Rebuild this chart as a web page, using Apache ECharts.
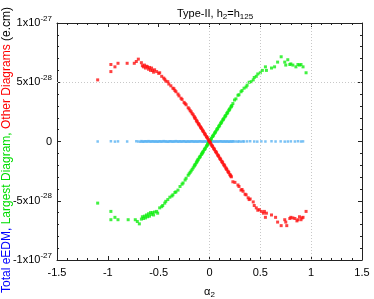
<!DOCTYPE html>
<html><head><meta charset="utf-8">
<script src="https://cdn.jsdelivr.net/npm/echarts@6/dist/echarts.min.js"></script>
<style>html,body{margin:0;padding:0;background:#fff}#c{width:374px;height:299px}</style>
</head><body><div id="c"></div>
<script>
// y values are in units of 1e-28 e.cm
const xTicks = [-1.5, -1, -0.5, 0, 0.5, 1, 1.5];
const yTickValues = [-10, -5, 0, 5, 10];
const yTickMantissa = ['-1x10', '-5x10', '0', '5x10', '1x10'];
const yTickExponent = ['-27', '-28', '', '-28', '-27'];
const gridX = [0, 0.5, 1];
const gridY = [5];
const yNameParts = ['Total eEDM,', 'Largest Diagram,', 'Other Diagrams', '(e.cm)'];

const otherDiagrams = [
[-1.10,5.2],[-0.97,6.5],[-0.97,5.9],[-0.93,6.3],[-0.90,6.6],[-0.81,6.6],[-0.74,6.6],[-0.72,6.75],[-0.70,6.95],[-0.67,6.65],
[-0.66,6.4],[-0.65,6.3],[-0.64,6.45],[-0.63,6.2],[-0.62,6.35],[-0.61,6.3],[-0.60,6.1],[-0.59,6.25],[-0.58,6.0],[-0.57,6.2],
[-0.56,6.0],[-0.55,5.85],[-0.54,6.05],[-0.52,5.9],[-0.50,5.75],[-0.49,5.8],[-0.47,5.5],[-0.45,5.35],[-0.44,5.25],[-0.43,5.1],
[-0.41,5.05],[-0.40,4.85],[-0.38,4.7],[-0.36,4.5],[-0.35,4.45],[-0.34,4.3],[-0.33,4.2],[-0.31,4.0],[-0.30,3.85],[-0.28,3.65],
[-0.27,3.55],[-0.25,3.3],[-0.24,3.2],[-0.23,3.1],[-0.21,2.85],[-0.20,2.75],[-0.19,2.6],[-0.18,2.5],[-0.17,2.35],[-0.16,2.25],
[-0.15,2.1],[-0.145,2.0],[-0.14,1.95],[-0.13,1.8],[-0.125,1.72],[-0.12,1.65],[-0.11,1.52],[-0.105,1.45],[-0.10,1.38],[-0.09,1.25],
[-0.085,1.18],[-0.08,1.1],[-0.07,0.98],[-0.065,0.9],[-0.06,0.83],[-0.05,0.7],[-0.045,0.62],[-0.04,0.55],[-0.03,0.42],[-0.025,0.35],
[-0.02,0.28],[-0.01,0.14],[-0.005,0.07],[0.0,0.0],
[0.005,-0.07],[0.01,-0.14],[0.02,-0.28],[0.025,-0.35],[0.03,-0.42],[0.04,-0.56],[0.045,-0.62],[0.05,-0.7],[0.06,-0.84],[0.065,-0.9],
[0.07,-0.97],[0.08,-1.12],[0.085,-1.18],[0.09,-1.25],[0.10,-1.4],[0.105,-1.46],[0.11,-1.53],[0.12,-1.67],[0.125,-1.73],[0.13,-1.8],
[0.14,-1.95],[0.145,-2.0],[0.15,-2.08],[0.16,-2.22],[0.165,-2.3],[0.17,-2.36],[0.18,-2.5],[0.185,-2.57],[0.19,-2.63],[0.20,-2.78],
[0.205,-2.85],[0.21,-2.92],[0.215,-2.98],[0.23,-3.4],[0.25,-3.45],[0.28,-3.67],[0.29,-3.8],[0.31,-4.1],[0.32,-4.05],[0.33,-4.2],
[0.35,-4.45],[0.36,-4.5],[0.38,-4.75],[0.39,-4.9],[0.40,-4.85],[0.43,-5.1],[0.44,-5.4],[0.46,-5.6],[0.475,-5.8],[0.49,-5.75],
[0.51,-5.9],[0.53,-6.05],[0.54,-5.9],[0.55,-6.4],[0.56,-6.05],[0.61,-6.2],[0.65,-6.4],[0.67,-6.8],[0.705,-7.1],[0.74,-6.6],
[0.75,-6.8],[0.76,-7.1],[0.79,-6.5],[0.80,-6.4],[0.82,-6.45],[0.84,-6.5],[0.86,-6.7],[0.87,-6.6],[0.885,-6.35],[0.90,-6.6],
[0.91,-6.45],[0.92,-6.4],[0.95,-5.9]
];

const largestDiagram = [
[-1.10,-5.2],[-0.97,-5.9],[-0.97,-6.6],[-0.93,-6.4],[-0.90,-6.6],[-0.80,-6.6],[-0.73,-6.6],[-0.71,-6.75],[-0.69,-6.95],[-0.67,-6.55],
[-0.66,-6.35],[-0.65,-6.5],[-0.64,-6.3],[-0.63,-6.45],[-0.62,-6.2],[-0.61,-6.35],[-0.60,-6.1],[-0.59,-6.3],[-0.58,-6.0],[-0.57,-6.15],
[-0.56,-6.0],[-0.55,-6.2],[-0.54,-5.95],[-0.52,-5.9],[-0.51,-6.05],[-0.49,-5.6],[-0.47,-5.5],[-0.46,-5.4],[-0.44,-5.2],[-0.43,-5.05],
[-0.41,-4.9],[-0.39,-4.7],[-0.37,-4.6],[-0.36,-4.5],[-0.34,-4.3],[-0.33,-4.25],[-0.31,-4.1],[-0.29,-3.8],[-0.27,-3.6],[-0.26,-3.5],
[-0.24,-3.25],[-0.23,-3.1],[-0.21,-2.85],[-0.20,-2.72],[-0.19,-2.6],[-0.18,-2.48],[-0.17,-2.35],[-0.16,-2.22],[-0.15,-2.08],[-0.145,-2.0],
[-0.14,-1.93],[-0.13,-1.8],[-0.125,-1.72],[-0.12,-1.64],[-0.115,-1.56],[-0.11,-1.5],[-0.10,-1.37],[-0.095,-1.3],[-0.09,-1.24],[-0.08,-1.1],
[-0.075,-1.03],[-0.07,-0.96],[-0.066,-0.9],[-0.06,-0.82],[-0.05,-0.68],[-0.045,-0.62],[-0.04,-0.55],[-0.03,-0.41],[-0.025,-0.34],[-0.02,-0.27],
[-0.017,-0.2],[-0.01,-0.13],[-0.005,-0.06],[0.0,0.0],
[0.005,0.07],[0.01,0.14],[0.015,0.21],[0.02,0.28],[0.03,0.42],[0.035,0.48],[0.04,0.55],[0.05,0.69],[0.055,0.76],[0.06,0.83],
[0.07,0.97],[0.075,1.04],[0.08,1.1],[0.09,1.24],[0.095,1.31],[0.10,1.38],[0.11,1.52],[0.115,1.59],[0.12,1.66],[0.13,1.8],
[0.135,1.86],[0.14,1.93],[0.15,2.07],[0.155,2.14],[0.16,2.2],[0.17,2.35],[0.175,2.41],[0.18,2.48],[0.19,2.62],[0.195,2.69],
[0.20,2.76],[0.21,2.9],[0.215,2.96],[0.22,3.04],[0.23,3.2],[0.246,3.5],[0.26,3.6],[0.28,3.9],[0.29,3.95],[0.31,4.2],
[0.32,4.3],[0.34,4.5],[0.36,4.6],[0.37,4.75],[0.39,5.0],[0.41,5.05],[0.43,5.2],[0.44,5.4],[0.46,5.5],[0.475,5.7],
[0.50,5.8],[0.52,6.0],[0.55,6.3],[0.56,6.0],[0.61,6.2],[0.64,6.3],[0.67,6.7],[0.705,7.15],[0.74,6.7],[0.75,6.45],
[0.77,6.9],[0.79,6.5],[0.80,6.55],[0.82,6.45],[0.85,6.3],[0.87,6.5],[0.885,6.45],[0.90,6.5],[0.92,6.3],[0.95,5.8]
];

const totalEDM = [
[-1.10,0.0],[-0.97,0.02],[-0.93,-0.01],[-0.90,0.01],[-0.81,0.0],[-0.72,0.02],[-0.70,0.0],[-0.68,-0.02],[-0.67,0.03],[-0.66,0.0],
[-0.65,-0.02],[-0.64,0.01],[-0.63,0.02],[-0.62,0.0],[-0.61,0.0],[-0.60,0.03],[-0.59,0.01],[-0.58,-0.01],[-0.57,0.0],[-0.56,0.02],
[-0.55,0.0],[-0.54,-0.01],[-0.53,0.01],[-0.52,0.0],[-0.51,-0.02],[-0.50,0.01],[-0.49,0.02],[-0.48,-0.01],[-0.47,0.0],[-0.46,0.01],
[-0.45,0.03],[-0.44,0.0],[-0.43,0.01],[-0.42,-0.01],[-0.41,-0.02],[-0.40,0.0],[-0.39,0.02],[-0.38,0.01],[-0.37,0.0],[-0.36,-0.01],
[-0.35,0.01],[-0.34,0.0],[-0.33,0.03],[-0.32,0.01],[-0.31,-0.01],[-0.30,0.0],[-0.29,0.02],[-0.28,-0.01],[-0.27,0.0],[-0.26,0.01],
[-0.25,0.02],[-0.24,0.0],[-0.23,-0.02],[-0.22,0.0],[-0.21,0.01],[-0.20,-0.01],[-0.19,0.0],[-0.18,0.01],[-0.17,0.02],[-0.16,0.0],
[-0.15,-0.01],[-0.14,0.0],[-0.13,0.01],[-0.12,-0.01],[-0.11,0.0],[-0.10,0.01],[-0.09,0.02],[-0.08,0.0],[-0.07,-0.01],[-0.06,0.0],
[-0.05,0.01],[-0.04,0.0],[-0.03,0.0],[-0.02,-0.01],[-0.01,0.01],[0.0,0.0],[0.01,0.0],[0.02,-0.01],[0.03,0.01],[0.04,0.0],
[0.05,-0.01],[0.06,0.0],[0.07,0.01],[0.08,-0.01],[0.09,0.0],[0.10,0.01],[0.11,0.02],[0.12,0.0],[0.13,-0.01],[0.14,0.01],
[0.15,0.0],[0.16,-0.01],[0.17,0.01],[0.18,0.0],[0.19,-0.02],[0.20,0.01],[0.21,0.0],[0.22,-0.01],[0.23,0.02],[0.24,0.0],
[0.26,0.0],[0.28,-0.01],[0.29,0.01],[0.31,-0.01],[0.33,0.01],[0.34,0.0],[0.37,0.01],[0.40,0.02],[0.44,0.0],
[0.47,-0.01],[0.51,0.01],[0.55,0.0],[0.61,0.02],[0.65,0.0],[0.70,0.01],[0.74,-0.01],[0.77,0.0],[0.80,0.01],[0.84,0.0],
[0.87,0.02],[0.90,0.0],[0.92,0.01]
];

const FONT = '"Liberation Sans", Arial, Helvetica, sans-serif';
const chart = echarts.init(document.getElementById('c'), null, {renderer: 'canvas'});

const gridMarks = gridX.map(v => ({xAxis: v})).concat(gridY.map(v => ({yAxis: v})));

function axisBase() {
  return {
    axisLine: {show: true, onZero: false, lineStyle: {color: '#222', width: 1}},
    axisTick: {show: true, inside: true, length: 4, lineStyle: {color: '#222'}},
    minorTick: {show: true, splitNumber: 5, length: 2, lineStyle: {color: '#222'}},
    splitLine: {show: false},
    minorSplitLine: {show: false}
  };
}

const yNameStyles = ['b', 'g', 'r', 'k'];
const yNameText = yNameParts.map((t, i) => '{' + yNameStyles[i] + '|' + t + '}').join(' ');

chart.setOption({
  animation: false,
  backgroundColor: '#fff',
  title: {
    text: '{n|Type-II, h}{s|2}{n|=h}{s|125}',
    left: 172, top: 1,
    textStyle: {
      fontWeight: 'normal',
      rich: {
        n: {fontFamily: FONT, fontSize: 11, fontWeight: 'normal', color: '#000', lineHeight: 15},
        s: {fontFamily: FONT, fontSize: 8, fontWeight: 'normal', color: '#000', lineHeight: 9, verticalAlign: 'bottom'}
      }
    }
  },
  graphic: [{
    type: 'text', x: 7, y: 150, rotation: Math.PI / 2, silent: true,
    style: {
      text: yNameText, align: 'center', verticalAlign: 'middle',
      fontFamily: FONT, fontSize: 12,
      rich: {
        b: {fontFamily: FONT, fontSize: 12, fill: '#0000ff', color: '#0000ff'},
        g: {fontFamily: FONT, fontSize: 12, fill: '#00dd00', color: '#00dd00'},
        r: {fontFamily: FONT, fontSize: 12, fill: '#ff0000', color: '#ff0000'},
        k: {fontFamily: FONT, fontSize: 12, fill: '#000000', color: '#000000'}
      }
    }
  }],
  grid: {left: 57, right: 12, top: 23, bottom: 39, containLabel: false, outerBoundsMode: 'none'},
  xAxis: [
    Object.assign(axisBase(), {
      type: 'value', min: xTicks[0], max: xTicks[xTicks.length - 1], interval: 0.5, position: 'bottom',
      axisLabel: {fontFamily: FONT, fontSize: 11, color: '#000', margin: 7,
        formatter: v => String(v)},
      name: '{n|α}{s|2}', nameLocation: 'middle', nameGap: 24, nameMoveOverlap: false,
      nameTextStyle: {rich: {
        n: {fontFamily: FONT, fontSize: 11, color: '#000', lineHeight: 15},
        s: {fontFamily: FONT, fontSize: 8, color: '#000', lineHeight: 9, verticalAlign: 'bottom'}
      }}
    }),
    Object.assign(axisBase(), {
      type: 'value', min: xTicks[0], max: xTicks[xTicks.length - 1], interval: 0.5, position: 'top',
      axisLabel: {show: false}
    })
  ],
  yAxis: [
    Object.assign(axisBase(), {
      type: 'value', min: yTickValues[0], max: yTickValues[yTickValues.length - 1], interval: 5, position: 'left',
      axisLabel: {margin: 5, formatter: v => {
          const i = yTickValues.indexOf(v);
          if (i < 0) return '';
          return '{m|' + yTickMantissa[i] + '}' + (yTickExponent[i] ? '{e|' + yTickExponent[i] + '}' : '');
        },
        rich: {
          m: {fontFamily: FONT, fontSize: 11, color: '#000', lineHeight: 17},
          e: {fontFamily: FONT, fontSize: 8, color: '#000', lineHeight: 9, verticalAlign: 'top'}
        }
      }
    }),
    Object.assign(axisBase(), {
      type: 'value', min: yTickValues[0], max: yTickValues[yTickValues.length - 1], interval: 5, position: 'right',
      axisLabel: {show: false}
    })
  ],
  series: [
    {
      type: 'scatter', xAxisIndex: 0, yAxisIndex: 0, data: [], z: 1, silent: true,
      markLine: {silent: true, symbol: 'none', label: {show: false}, animation: false,
        lineStyle: {color: '#c8c8c8', type: [1, 2], width: 1}, data: gridMarks}
    },
    {name: 'Total eEDM', type: 'scatter', data: totalEDM, symbol: 'rect', symbolSize: 2.5, z: 3,
      itemStyle: {color: '#5db4f2', opacity: 0.8}},
    {name: 'Largest Diagram', type: 'scatter', data: largestDiagram, symbol: 'rect', symbolSize: 3, z: 4,
      itemStyle: {color: '#11ee11', opacity: 0.8}},
    {name: 'Other Diagrams', type: 'scatter', data: otherDiagrams, symbol: 'rect', symbolSize: 3, z: 5,
      itemStyle: {color: '#ff1111', opacity: 0.8}}
  ]
});
</script></body></html>
